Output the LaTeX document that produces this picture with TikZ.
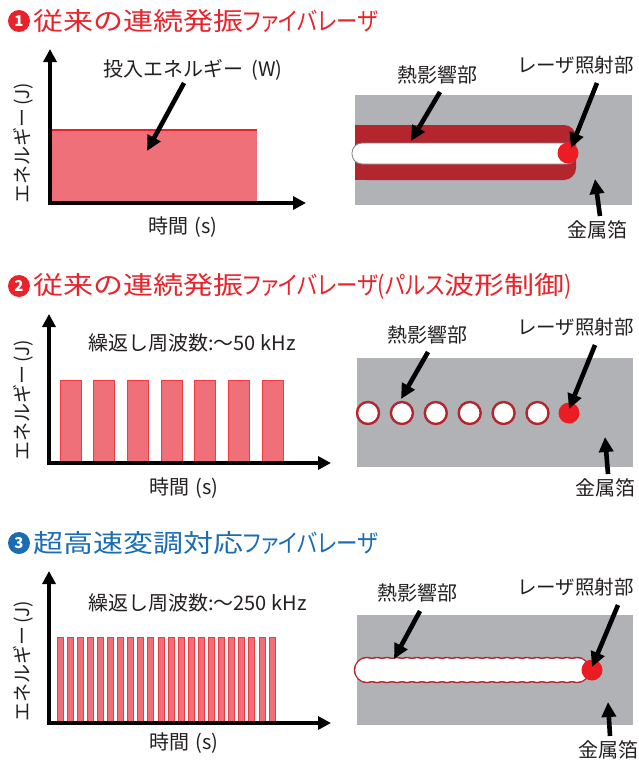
\documentclass[tikz,border=0pt]{standalone}
\usepackage{fontspec}
\setmainfont{Noto Sans CJK JP}
\newfontfamily\ttlK[FakeStretch=1.2]{Noto Sans CJK JP}
\newfontfamily\ttlP[RawFeature=+palt,FakeStretch=0.86]{Noto Sans CJK JP}
\usetikzlibrary{arrows.meta}
\definecolor{tred}{HTML}{E8232B}
\definecolor{tblue}{HTML}{1B6CB3}
\definecolor{pinkfill}{HTML}{F07079}
\definecolor{barline}{HTML}{EE3A40}
\definecolor{darkred}{HTML}{B3262D}
\definecolor{foil}{HTML}{B1B2B5}
\definecolor{dotred}{HTML}{EC1C24}
\definecolor{txt}{HTML}{231F20}
\begin{document}
\begin{tikzpicture}[x=1pt,y=-1pt,
  axis/.style={line width=3.6pt,-{Triangle[length=13pt,width=13pt]}},
  pointer/.style={line width=4.6pt,-{Triangle[length=15pt,width=14pt]}},
  lbl/.style={font=\fontsize{20}{20}\selectfont,inner sep=0pt,text=txt},
  lasr/.style={font=\fontsize{19.5}{20}\selectfont,inner sep=0pt,text=txt,anchor=west},
  ylbl/.style={font=\fontsize{19}{19}\selectfont,inner sep=0pt,text=txt,rotate=90},
  ttl/.style={font=\fontsize{25}{25}\selectfont,anchor=west,inner sep=0pt},
  numc/.style={circle,inner sep=0pt,minimum size=22pt,font=\fontsize{15}{15}\selectfont\bfseries,text=white},
  bar/.style={fill=pinkfill,draw=barline,line width=0.9pt},
  ring/.style={circle,draw=darkred,line width=2.4pt,fill=white,minimum size=22pt,inner sep=0pt},
  dot/.style={circle,fill=dotred,minimum size=21pt,inner sep=0pt}]
\useasboundingbox (0,0) rectangle (638,763);

% ---------- Panel 1 ----------
\node[numc,fill=tred] (n1) at (19,21) {1};
\node[ttl,text=tred] (t1) at (33,21) {{\ttlK 従来の連続発振}{\ttlP ファイバレーザ}};

\fill[pinkfill] (51,130) rectangle (257,203);
\draw[tred,line width=1.6pt] (51,130) -- (257,130);
\coordinate (o1) at (50,203);
\coordinate (y1) at (50,49);
\coordinate (x1) at (306,203);
\draw[axis] ([yshift=-2pt]o1) -- (y1);
\draw[axis] ([xshift=-2pt]o1) -- (x1);
\node[ylbl] (yl1) at (23,143) {エネルギー\,(J)};
\node[lbl] (xl1) at (183,227) {時間\hspace{0.3em}(s)};
\node[lbl] (in1) at (193,70) {投入エネルギー\hspace{0.4em}(W)};
\coordinate (in1a) at (184,83);
\coordinate (in1b) at (147,151);
\draw[pointer] (in1a) -- (in1b);

\fill[foil] (355,95) rectangle (632,205);
\fill[darkred,rounded corners=12pt] (355,125) rectangle (576,180);
\fill[darkred] (355,125) rectangle (375,180);
\draw[gray,line width=0.8pt,fill=white,rounded corners=10pt] (352,143) rectangle (577,164);
\node[dot] (d1) at (568,153) {};
\node[lbl] (h1) at (437,75) {熱影響部};
\node[lasr] (l1) at (517,65) {レーザ照射部};
\node[lbl] (f1) at (597,230) {金属箔};
\coordinate (h1a) at (440,92);
\coordinate (h1b) at (411,141);
\draw[pointer] (h1a) -- (h1b);
\coordinate (l1a) at (597,83);
\coordinate (l1b) at (571,148);
\draw[pointer] (l1a) -- (l1b);
\coordinate (f1a) at (600,216);
\coordinate (f1b) at (595,179);
\draw[pointer] (f1a) -- (f1b);

% ---------- Panel 2 ----------
\node[numc,fill=tred] (n2) at (19,286) {2};
\node[ttl,text=tred] (t2) at (33,286) {{\ttlK 従来の連続発振}{\ttlP ファイバレーザ(パルス}{\ttlK 波形制御}{\ttlP )}};

\foreach \i in {0,...,6} {
  \draw[bar] ({60+33.7*\i},380) rectangle ({81+33.7*\i},463);
}
\coordinate (o2) at (49,463);
\coordinate (y2) at (49,314);
\coordinate (x2) at (331,463);
\draw[axis] ([yshift=-2pt]o2) -- (y2);
\draw[axis] ([xshift=-2pt]o2) -- (x2);
\node[ylbl] (yl2) at (23,400) {エネルギー\,(J)};
\node[lbl] (xl2) at (184,488) {時間\hspace{0.3em}(s)};
\node[lbl,anchor=west] (fr2) at (88,343) {繰返し周波数:～50 kHz};

\fill[foil] (357,358) rectangle (633,467);
\foreach \i in {0,...,5} {
  \node[ring] (r2\i) at ({368+33.9*\i},413) {};
}
\node[dot] (d2) at (569,413) {};
\node[lbl] (h2) at (427,335) {熱影響部};
\node[lasr] (l2) at (517,327) {レーザ照射部};
\node[lbl] (f2) at (605,488) {金属箔};
\coordinate (h2a) at (428,352);
\coordinate (h2b) at (401,399);
\draw[pointer] (h2a) -- (h2b);
\coordinate (l2a) at (595,345);
\coordinate (l2b) at (569,409);
\draw[pointer] (l2a) -- (l2b);
\coordinate (f2a) at (608,474);
\coordinate (f2b) at (605,437);
\draw[pointer] (f2a) -- (f2b);

% ---------- Panel 3 ----------
\node[numc,fill=tblue] (n3) at (19,543) {3};
\node[ttl,text=tblue] (t3) at (33,543) {{\ttlK 超高速変調対応}{\ttlP ファイバレーザ}};

\foreach \i in {0,...,21} {
  \draw[bar] ({57+10.1*\i},637) rectangle ({63+10.1*\i},723);
}
\coordinate (o3) at (49,723);
\coordinate (y3) at (49,571);
\coordinate (x3) at (331,723);
\draw[axis] ([yshift=-2pt]o3) -- (y3);
\draw[axis] ([xshift=-2pt]o3) -- (x3);
\node[ylbl] (yl3) at (23,661) {エネルギー\,(J)};
\node[lbl] (xl3) at (184,743) {時間\hspace{0.3em}(s)};
\node[lbl,anchor=west] (fr3) at (88,603) {繰返し周波数:～250 kHz};

\fill[foil] (357,615) rectangle (633,725);
\foreach \i in {0,...,21} {
  \fill[darkred] ({367+10*\i},670) circle[radius=13.2pt];
}
\foreach \i in {0,...,21} {
  \fill[white] ({367+10*\i},670) circle[radius=11.8pt];
}
\node[dot] (d3) at (592,670) {};
\node[lbl] (h3) at (417,593) {熱影響部};
\node[lasr] (l3) at (517,587) {レーザ照射部};
\node[lbl] (f3) at (608,750) {金属箔};
\coordinate (h3a) at (420,611);
\coordinate (h3b) at (394,659);
\draw[pointer] (h3a) -- (h3b);
\coordinate (l3a) at (618,605);
\coordinate (l3b) at (592,667);
\draw[pointer] (l3a) -- (l3b);
\coordinate (f3a) at (610,736);
\coordinate (f3b) at (608,702);
\draw[pointer] (f3a) -- (f3b);
\end{tikzpicture}
\end{document}
